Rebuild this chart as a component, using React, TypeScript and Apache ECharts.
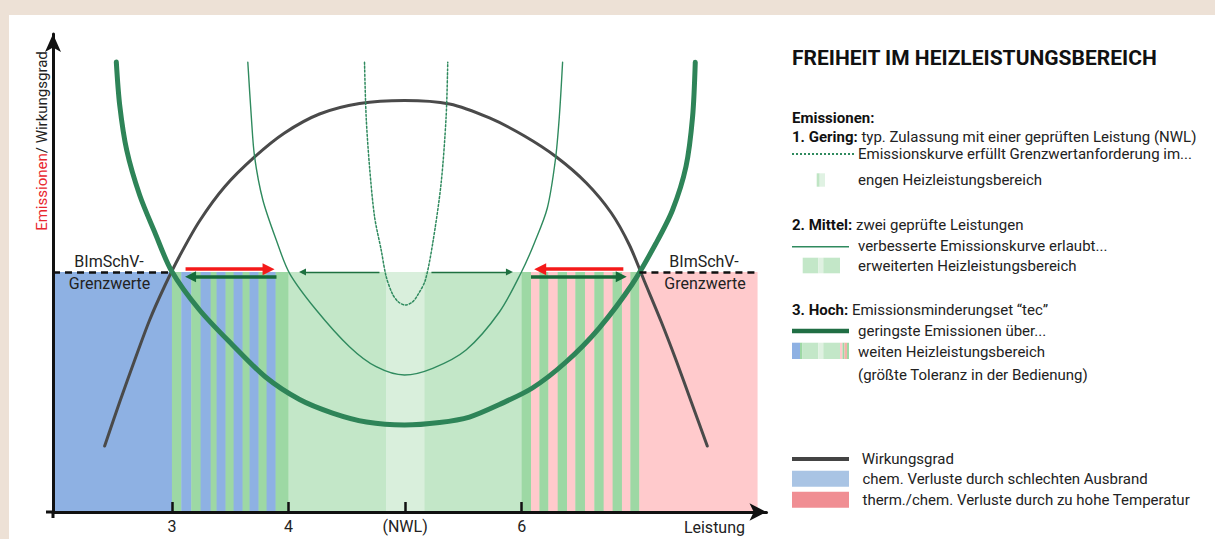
import React, { useEffect, useRef } from "react";
import * as echarts from "echarts";

// ---------- axis ranges ----------
const X_MIN = 1.98;
const X_MAX = 8.1;
const Y_MAX = 100;
const threshold = 50.2; // BImSchV-Grenzwerte

const xTickValues = [3, 4, 5, 6];
const xTickLabels = ["3", "4", "(NWL)", "6"];

// ---------- regions below the limit: [start, end, colorIndex] ----------
const bandColors = ["#8eb1e3", "#9dd8a4", "#c3e7c8", "#d9efdc", "#ffcacc"];
const bands: number[][] = [
  [1.98, 3.0, 0],
  [3.0, 3.08, 1], [3.08, 3.166, 0], [3.166, 3.246, 1], [3.246, 3.332, 0],
  [3.332, 3.383, 1], [3.383, 3.46, 0], [3.46, 3.529, 1], [3.529, 3.606, 0],
  [3.606, 3.666, 1], [3.666, 3.743, 0], [3.743, 3.812, 1], [3.812, 3.889, 0],
  [3.889, 4.0, 1],
  [4.0, 4.838, 2], [4.838, 5.166, 3], [5.166, 6.0, 2],
  [6.0, 6.08, 1], [6.08, 6.152, 4], [6.152, 6.229, 1], [6.229, 6.309, 4],
  [6.309, 6.389, 1], [6.389, 6.46, 4], [6.46, 6.543, 1], [6.543, 6.623, 4],
  [6.623, 6.703, 1], [6.703, 6.78, 4], [6.78, 6.86, 1], [6.86, 6.932, 4],
  [6.932, 7.009, 1], [7.009, 8.02, 4],
];

// ---------- curves [Leistung, value] ----------
const curveHoch: number[][] = [
  [2.523, 94.14], [2.552, 85.15], [2.612, 75.73], [2.723, 66.32], [2.852, 58.58],
  [2.997, 50.42], [3.237, 42.26], [3.52, 34.94], [3.803, 28.24], [4.095, 23.54],
  [4.378, 20.71], [4.669, 18.83], [4.995, 18.2], [5.295, 18.72], [5.552, 19.87],
  [5.809, 22.49], [6.092, 25.94], [6.38, 31.38], [6.665, 38.49], [6.949, 47.7],
  [7.152, 56.21], [7.294, 63.18], [7.409, 72.24], [7.466, 82.7], [7.489, 94.08],
];
const curveMittel: number[][] = [
  [3.651, 94.08], [3.681, 82.7], [3.709, 74.33], [3.78, 65.27], [3.895, 56.9],
  [4.009, 49.94], [4.238, 42.26], [4.523, 34.58], [4.752, 30.4], [4.995, 28.66],
  [5.237, 30.06], [5.523, 33.89], [5.809, 41.84], [5.997, 50.15], [6.109, 56.28],
  [6.22, 63.6], [6.289, 73.64], [6.323, 82.7], [6.351, 94.08],
];
const curveGering: number[][] = [
  [4.652, 94.08], [4.666, 82.7], [4.695, 72.24], [4.738, 61.78], [4.795, 54.81],
  [4.838, 49.23], [4.892, 45.61], [4.943, 43.93], [5.003, 43.31], [5.063, 43.93],
  [5.114, 45.61], [5.174, 48.54], [5.237, 56.21], [5.309, 68.77], [5.352, 82.7],
  [5.366, 94.08],
];
const curveWirkungsgrad: number[][] = [
  [2.423, 13.81], [2.552, 23.01], [2.681, 31.8], [2.809, 40.17], [2.938, 47.28],
  [3.066, 53.56], [3.237, 60.88], [3.451, 67.99], [3.709, 74.27], [3.966, 79.29],
  [4.266, 83.26], [4.609, 85.46], [4.995, 86.09], [5.381, 85.36], [5.724, 82.43],
  [6.024, 78.66], [6.298, 74.27], [6.555, 68.83], [6.769, 62.55], [6.924, 55.86],
  [7.052, 48.33], [7.198, 39.75], [7.327, 31.59], [7.455, 23.01], [7.592, 13.81],
];

// ---------- arrows [[fromX, fromY], [toX, toY]] ----------
const redArrows: number[][][] = [
  [[3.117, 50.8], [3.829, 50.8]],
  [[6.872, 50.8], [6.159, 50.8]],
];
const darkArrows: number[][][] = [
  [[3.897, 49.2], [3.16, 49.2]],
  [[6.08, 49.2], [6.854, 49.2]],
];
const thinArrows: number[][][] = [
  [[4.78, 50.2], [4.12, 50.2]],
  [[5.226, 50.2], [5.895, 50.2]],
];
const limitSegments: number[][][] = [
  [[1.98, threshold], [3.0, threshold]],
  [[7.01, threshold], [8.02, threshold]],
];

const FONT = "Roboto, 'Liberation Sans', sans-serif";
const TXT = "#222";

function txt(text: string, x: number, y: number, size = 15, extra: any = {}) {
  return {
    type: "text",
    x,
    y,
    z: 100,
    silent: true,
    style: {
      text,
      fill: TXT,
      fontSize: size,
      fontFamily: FONT,
      align: "left",
      verticalAlign: "middle",
      ...extra,
    },
  };
}

function richLine(bold: string, rest: string, x: number, y: number) {
  return {
    type: "text",
    x,
    y,
    z: 100,
    silent: true,
    style: {
      text: `{b|${bold}} {n|${rest}}`,
      fill: TXT,
      fontSize: 15,
      fontFamily: FONT,
      verticalAlign: "middle",
      rich: {
        b: { fontWeight: "bold", fontSize: 15, fontFamily: FONT, fill: "#111" },
        n: { fontSize: 15, fontFamily: FONT, fill: TXT },
      },
    },
  };
}

function rect(x: number, y: number, w: number, h: number, fill: string) {
  return { type: "rect", z: 100, silent: true, shape: { x, y, width: w, height: h }, style: { fill } };
}

function hline(x1: number, x2: number, y: number, stroke: string, lineWidth: number, lineDash?: number[]) {
  return {
    type: "line",
    z: 100,
    silent: true,
    shape: { x1, y1: y, x2, y2: y },
    style: { stroke, lineWidth, lineDash },
  };
}

export default function App() {
  const ref = useRef<HTMLDivElement>(null);

  useEffect(() => {
    if (!ref.current) return;
    const chart = echarts.init(ref.current, undefined, { renderer: "svg" });

    const legendGraphics: any[] = [
      txt("FREIHEIT IM HEIZLEISTUNGSBEREICH", 792, 58, 21, { fontWeight: "bold", fill: "#111" }),
      txt("Emissionen:", 792, 118, 15, { fontWeight: "bold", fill: "#111" }),
      richLine("1. Gering:", "typ. Zulassung mit einer geprüften Leistung (NWL)", 792, 137),
      hline(792, 855, 154, "#2f8a5e", 2, [2, 2]),
      txt("Emissionskurve erfüllt Grenzwertanforderung im...", 858, 154),
      rect(816.7, 173.3, 3, 13.4, "#bfe5c4"),
      rect(819.7, 173.3, 5.3, 13.4, "#e0f2e3"),
      txt("engen Heizleistungsbereich", 858, 180),

      richLine("2. Mittel:", "zwei geprüfte Leistungen", 792, 225),
      hline(792, 849, 246.7, "#2f8a5e", 1.5),
      txt("verbesserte Emissionskurve erlaubt...", 858, 246),
      rect(802.7, 257.7, 15.6, 15.6, "#c3e7c8"),
      rect(818.3, 257.7, 5, 15.6, "#dff1e1"),
      rect(823.3, 257.7, 16.7, 15.6, "#c3e7c8"),
      txt("erweiterten Heizleistungsbereich", 858, 266),

      richLine("3. Hoch:", "Emissionsminderungset \u201Ctec\u201D", 792, 310),
      hline(792, 849, 331, "#206e44", 4.5),
      txt("geringste Emissionen über...", 858, 331),
      rect(792, 342.7, 8, 16.3, "#8eb1e3"),
      rect(800, 342.7, 2.5, 16.3, "#9dd8a4"),
      rect(802.5, 342.7, 15.8, 16.3, "#c3e7c8"),
      rect(818.3, 342.7, 5, 16.3, "#dff1e1"),
      rect(823.3, 342.7, 16.7, 16.3, "#c3e7c8"),
      rect(840, 342.7, 2.5, 16.3, "#ffcacc"),
      rect(842.5, 342.7, 2, 16.3, "#9dd8a4"),
      rect(844.5, 342.7, 2.5, 16.3, "#f3b2a8"),
      rect(847, 342.7, 2, 16.3, "#9dd8a4"),
      txt("weiten Heizleistungsbereich", 858, 352),
      txt("(größte Toleranz in der Bedienung)", 858, 375),

      hline(792, 849, 459, "#444", 4),
      txt("Wirkungsgrad", 861.7, 459),
      rect(792, 470.7, 57, 16, "#a9c4e4"),
      txt("chem. Verluste durch schlechten Ausbrand", 862.5, 479),
      rect(792, 491.7, 57, 16, "#f08e93"),
      txt("therm./chem. Verluste durch zu hohe Temperatur", 862.5, 500),
    ];

    const chartTexts: any[] = [
      {
        type: "text",
        x: 42,
        y: 141,
        z: 100,
        rotation: Math.PI / 2,
        silent: true,
        style: {
          text: "{r|Emissionen}{k|/ Wirkungsgrad}",
          align: "center",
          verticalAlign: "middle",
          fontSize: 15,
          fontFamily: FONT,
          rich: {
            r: { fill: "#e8262d", fontSize: 15, fontFamily: FONT },
            k: { fill: TXT, fontSize: 15, fontFamily: FONT },
          },
        },
      },
      txt("BImSchV-", 109, 261, 16, { align: "center" }),
      txt("Grenzwerte", 109.5, 283.5, 16, { align: "center" }),
      txt("BImSchV-", 704, 261, 16, { align: "center" }),
      txt("Grenzwerte", 705, 283.5, 16, { align: "center" }),
      txt("Leistung", 745, 527, 16, { align: "right" }),
      hline(46, 53, 512, "#111", 3),
      { type: "line", z: 100, silent: true, shape: { x1: 53, y1: 512, x2: 53, y2: 518 }, style: { stroke: "#111", lineWidth: 3 } },
    ];

    const curveSeries = (data: number[][], color: string, width: number, type: any = "solid", z = 3) => ({
      type: "line",
      data,
      smooth: 0.3,
      showSymbol: false,
      symbol: "none",
      silent: true,
      z,
      lineStyle: { color, width, type, cap: "round" },
    });

    const arrowSeries = (data: number[][][], color: string, width: number, size: number[]) => ({
      type: "lines",
      coordinateSystem: "cartesian2d",
      silent: true,
      z: 6,
      symbol: ["none", "triangle"],
      symbolSize: size,
      lineStyle: { color, width, opacity: 1, curveness: 0 },
      data: data.map((c) => ({ coords: c })),
    });

    chart.setOption({
      animation: false,
      backgroundColor: "transparent",
      grid: { left: 53, top: 34, right: 448.5, bottom: 27, containLabel: false },
      xAxis: {
        type: "value",
        min: X_MIN,
        max: X_MAX,
        z: 10,
        splitLine: { show: false },
        axisLine: {
          onZero: false,
          lineStyle: { color: "#111", width: 3 },
          symbol: ["none", "arrow"],
          symbolSize: [13, 17],
        },
        axisTick: {
          show: true,
          inside: true,
          length: 10,
          customValues: xTickValues,
          lineStyle: { color: "#111", width: 2.5 },
        },
        axisLabel: {
          show: true,
          customValues: xTickValues,
          margin: 6,
          color: TXT,
          fontSize: 16,
          fontFamily: FONT,
          formatter: (v: number) => xTickLabels[xTickValues.indexOf(Math.round(v * 1000) / 1000)] ?? "",
        },
      },
      yAxis: {
        type: "value",
        min: 0,
        max: Y_MAX,
        z: 10,
        splitLine: { show: false },
        axisTick: { show: false },
        axisLabel: { show: false },
        axisLine: {
          show: true,
          onZero: false,
          lineStyle: { color: "#111", width: 3 },
          symbol: ["none", "arrow"],
          symbolSize: [12, 18],
        },
      },
      graphic: { elements: [...chartTexts, ...legendGraphics] },
      series: [
        {
          type: "custom",
          silent: true,
          z: 1,
          data: bands,
          encode: { x: [0, 1] },
          renderItem: (_p: any, api: any) => {
            const a = api.coord([api.value(0), threshold]);
            const b = api.coord([api.value(1), 0]);
            return {
              type: "rect",
              shape: { x: a[0], y: a[1], width: b[0] - a[0] + 0.4, height: b[1] - a[1] },
              style: { fill: bandColors[api.value(2)] },
            };
          },
        },
        curveSeries(curveWirkungsgrad, "#4a4a4a", 3),
        curveSeries(curveGering, "#2f8a5e", 1.5, [2, 2]),
        curveSeries(curveMittel, "#2f8a5e", 1.4),
        curveSeries(curveHoch, "#2e8458", 5),
        {
          type: "lines",
          coordinateSystem: "cartesian2d",
          silent: true,
          z: 4,
          symbol: ["none", "none"],
          lineStyle: { color: "#111", width: 2.5, type: [7, 5], opacity: 1 },
          data: limitSegments.map((c) => ({ coords: c })),
        },
        arrowSeries(redArrows, "#f41a1a", 3.5, [12, 12]),
        arrowSeries(darkArrows, "#176b3a", 3.5, [11, 11]),
        arrowSeries(thinArrows, "#1e7040", 1.4, [6, 7]),
      ],
    });

    return () => chart.dispose();
  }, []);

  return (
    <div style={{ position: "fixed", left: 0, top: 0, width: 1215, height: 539, background: "#ede1d6", overflow: "hidden" }}>
      <div style={{ position: "absolute", left: 9, top: 15, width: 1206, height: 524, background: "#ffffff" }} />
      <div ref={ref} style={{ position: "absolute", left: 0, top: 0, width: 1215, height: 539 }} />
    </div>
  );
}
